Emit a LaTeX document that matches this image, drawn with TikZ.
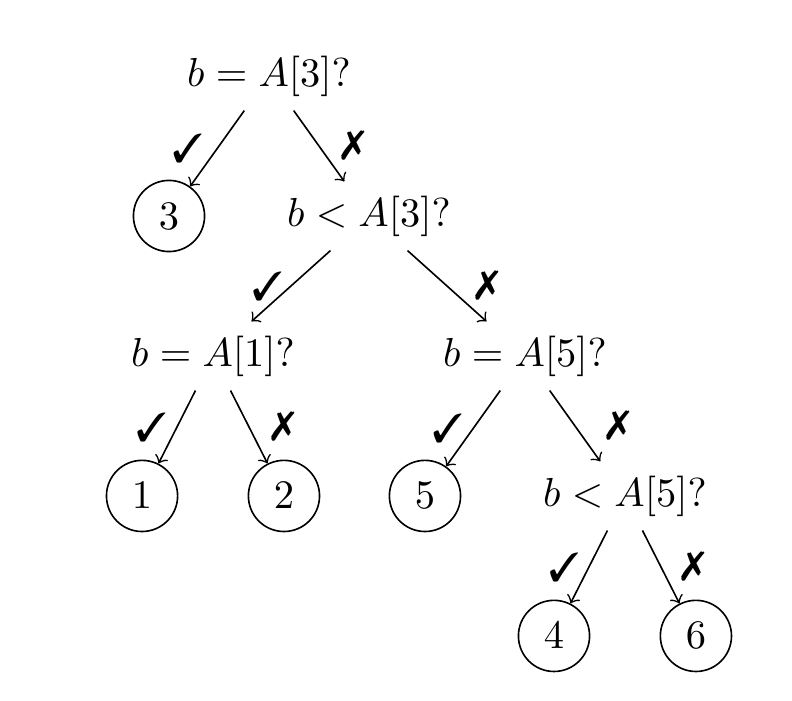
\documentclass[tikz,border=0pt]{standalone}
\usepackage{pifont}
\usetikzlibrary{positioning}

\begin{document}
\begin{tikzpicture}[
roundnode/.style={circle, draw=black},
asknode/.style={},
every node/.style={on grid}
]

\useasboundingbox (-2.335,0.660) rectangle (4.540,-5.417);

\node[asknode] (ask_eq3) {$b = A[3]?$};
\node[roundnode] (circle_3) [below left=1.215cm and 0.868cm of ask_eq3] {$3$};
\node[asknode] (ask_lt3) [below right=1.215cm and 0.868cm of ask_eq3] {$b < A[3]?$};
\node[asknode] (ask_eq1) [below left=1.215cm and 1.354cm of ask_lt3] {$b = A[1]?$};
\node[asknode] (ask_eq5) [below right=1.215cm and 1.354cm of ask_lt3] {$b = A[5]?$};
\node[roundnode] (circle_1) [below left=1.215cm and 0.616cm of ask_eq1] {$1$};
\node[roundnode] (circle_2) [below right=1.215cm and 0.616cm of ask_eq1] {$2$};
\node[roundnode] (circle_5) [below left=1.215cm and 0.868cm of ask_eq5] {$5$};
\node[asknode] (ask_lt5) [below right=1.215cm and 0.868cm of ask_eq5] {$b < A[5]?$};
\node[roundnode] (circle_4) [below left=1.215cm and 0.616cm of ask_lt5] {$4$};
\node[roundnode] (circle_6) [below right=1.215cm and 0.616cm of ask_lt5] {$6$};

\path[->] (ask_eq3) edge node [left] {\ding{51}} (circle_3);
\path[->] (ask_eq3) edge node [right=2pt] {\ding{55}} (ask_lt3);

\path[->] (ask_lt3) edge node [left, xshift=1.5pt] {\ding{51}} (ask_eq1);
\path[->] (ask_lt3) edge node [right=3.5pt] {\ding{55}} (ask_eq5);

\path[->] (ask_eq1) edge node [left, xshift=1pt] {\ding{51}} (circle_1);
\path[->] (ask_eq1) edge node [right=2pt] {\ding{55}} (circle_2);

\path[->] (ask_eq5) edge node [left, xshift=1pt] {\ding{51}} (circle_5);
\path[->] (ask_eq5) edge node [right=4.2pt] {\ding{55}} (ask_lt5);

\path[->] (ask_lt5) edge node [left, xshift=1.2pt] {\ding{51}} (circle_4);
\path[->] (ask_lt5) edge node [right=1.5pt] {\ding{55}} (circle_6);

\end{tikzpicture}
\end{document}
